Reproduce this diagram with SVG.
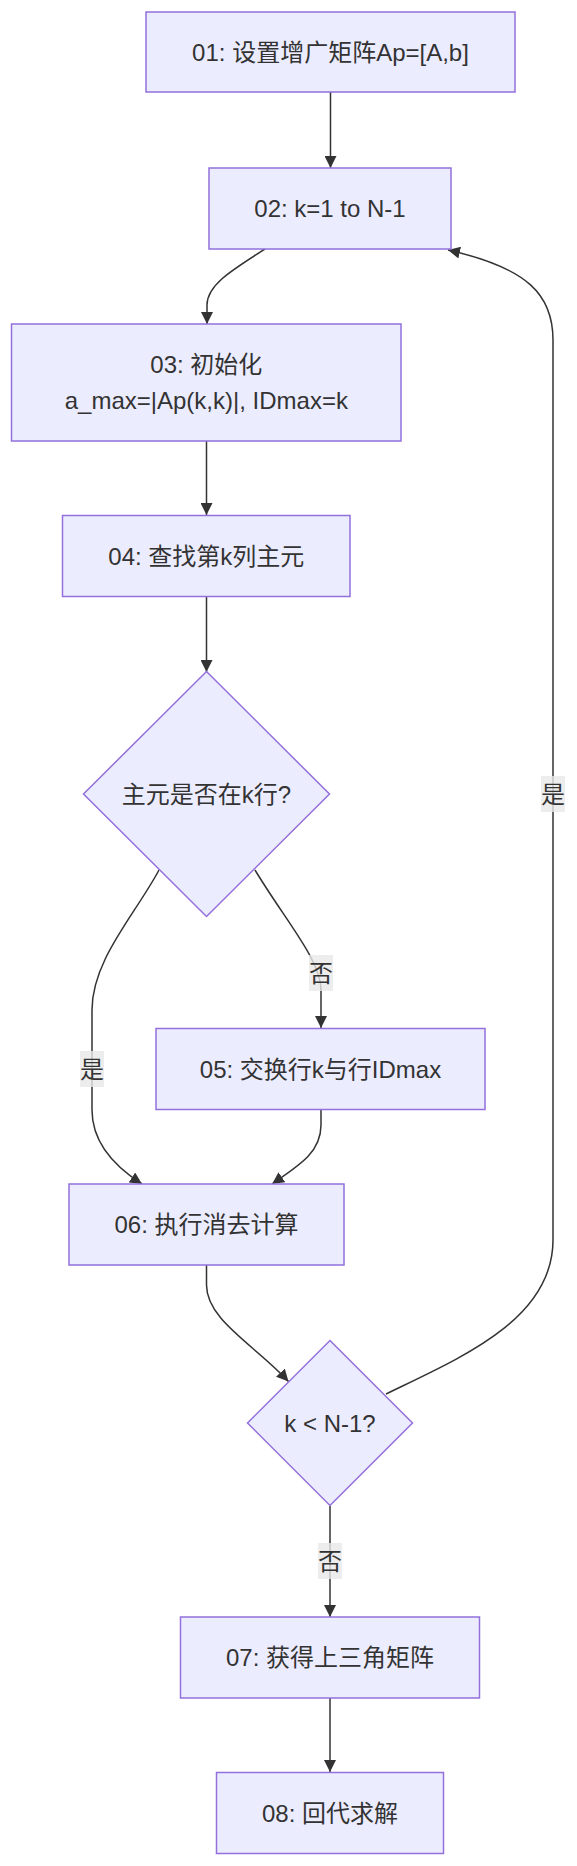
<svg xmlns="http://www.w3.org/2000/svg" width="577" height="1866" viewBox="0 0 577 1866">
<style>
.node rect, .node polygon { fill: #ECECFF; stroke: #9370DB; stroke-width: 1.5; }
.node text { font-family: "Liberation Sans", "Noto Sans CJK SC", sans-serif; font-size: 24px; fill: #333; text-anchor: middle; dominant-baseline: central; }
.edge { fill: none; stroke: #333; stroke-width: 1.5; }
.elabel rect { fill: #e8e8e8; opacity: 0.8; }
.elabel text { font-family: "Liberation Sans", "Noto Sans CJK SC", sans-serif; font-size: 24px; fill: #333; text-anchor: middle; dominant-baseline: central; }
</style>
<defs>
<marker id="arrow" viewBox="0 0 10 10" refX="10" refY="5" markerUnits="userSpaceOnUse" markerWidth="12" markerHeight="12" orient="auto">
<path d="M0,0 L10,5 L0,10 z" fill="#333"/>
</marker>
</defs>
<rect width="577" height="1866" fill="#fff"/>
<g id="connectors">
<path class="edge" d="M330.5,92 L330.5,168" marker-end="url(#arrow)"/>
<path class="edge" d="M265,249 C232,270 207,285 207,305 L207,324" marker-end="url(#arrow)"/>
<path class="edge" d="M206.5,441 L206.5,515" marker-end="url(#arrow)"/>
<path class="edge" d="M206.5,597 L206.5,672" marker-end="url(#arrow)"/>
<path class="edge" d="M159,870 C135,915 92,960 92,1010 L92,1110 C92,1145 117,1168 142,1184" marker-end="url(#arrow)"/>
<path class="edge" d="M255,870 C285,920 321,960 321,990 L321,1028" marker-end="url(#arrow)"/>
<path class="edge" d="M321,1110 L321,1125 C321,1152 300,1165 272,1184" marker-end="url(#arrow)"/>
<path class="edge" d="M206.5,1265 L206.5,1285 C206.5,1320 255,1345 288.5,1381.5" marker-end="url(#arrow)"/>
<path class="edge" d="M386,1394 C460,1358 553,1320 553,1240 L553,340 C553,295 528,268 448,250" marker-end="url(#arrow)"/>
<path class="edge" d="M330,1506 L330,1617" marker-end="url(#arrow)"/>
<path class="edge" d="M330,1698 L330,1772" marker-end="url(#arrow)"/>
</g>
<g id="edge-labels">
<g class="elabel" id="label-yes-1"><rect x="80" y="1051" width="24" height="36"/><text x="92" y="1069">是</text></g>
<g class="elabel" id="label-no-1"><rect x="309" y="955" width="24" height="36"/><text x="321" y="973">否</text></g>
<g class="elabel" id="label-yes-2"><rect x="541" y="776" width="24" height="36"/><text x="553" y="794">是</text></g>
<g class="elabel" id="label-no-2"><rect x="318" y="1543" width="24" height="36"/><text x="330" y="1561">否</text></g>
</g>
<g class="node" id="n01"><rect x="146" y="12" width="369" height="80"/><text x="330.5" y="52">01: 设置增广矩阵Ap=[A,b]</text></g>
<g class="node" id="n02"><rect x="209" y="168" width="242" height="81"/><text x="330" y="208.5">02: k=1 to N-1</text></g>
<g class="node" id="n03"><rect x="11.5" y="324" width="389.5" height="117"/><text x="206.3" y="364.5">03: 初始化</text><text x="206.3" y="400.5">a_max=|Ap(k,k)|, IDmax=k</text></g>
<g class="node" id="n04"><rect x="62.5" y="515.5" width="287.5" height="81"/><text x="206.3" y="556">04: 查找第k列主元</text></g>
<g class="node" id="n_d1"><polygon points="206.5,671.5 329.5,794 206.5,916.5 83.5,794"/><text x="206.5" y="794">主元是否在k行?</text></g>
<g class="node" id="n05"><rect x="156" y="1028.5" width="329" height="81"/><text x="320.5" y="1069">05: 交换行k与行IDmax</text></g>
<g class="node" id="n06"><rect x="69" y="1184" width="275" height="81"/><text x="206.5" y="1224.5">06: 执行消去计算</text></g>
<g class="node" id="n_d2"><polygon points="330,1340.5 412.5,1423 330,1505.5 247.5,1423"/><text x="330" y="1423">k &lt; N-1?</text></g>
<g class="node" id="n07"><rect x="180.5" y="1617" width="299" height="81"/><text x="330" y="1657.5">07: 获得上三角矩阵</text></g>
<g class="node" id="n08"><rect x="216.5" y="1772.5" width="227" height="81"/><text x="330" y="1813">08: 回代求解</text></g>
</svg>
